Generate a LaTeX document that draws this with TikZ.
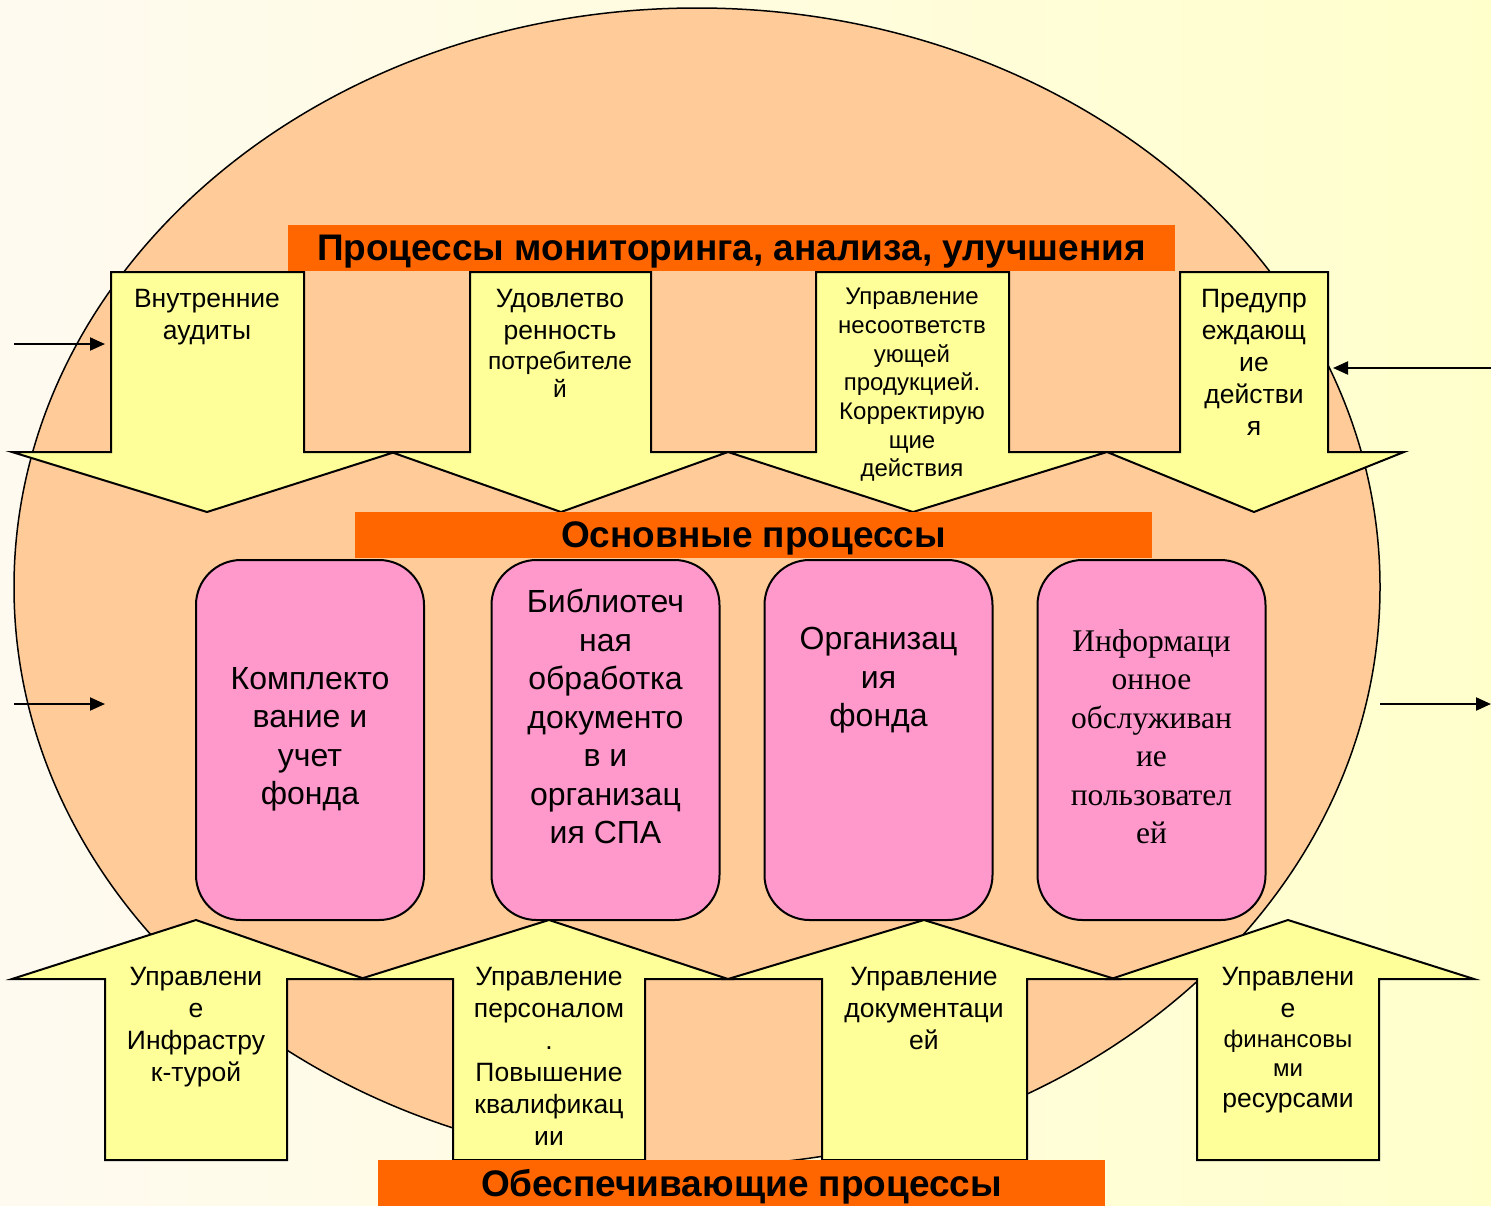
\documentclass[tikz,border=0pt]{standalone}
\usepackage{fontspec}
\setmainfont{Liberation Sans}
\newfontfamily\serifcyr{Liberation Serif}
\usetikzlibrary{arrows.meta}
\definecolor{peach}{RGB}{255,204,153}
\definecolor{lemon}{RGB}{255,255,153}
\definecolor{barorange}{RGB}{255,102,0}
\definecolor{rosepink}{RGB}{255,153,204}
\definecolor{paleleft}{RGB}{255,250,240}
\definecolor{paleright}{RGB}{255,255,204}
\tikzstyle{blockarrow} = [draw=black, line width=2pt, fill=lemon]
\tikzstyle{bar} = [fill=barorange, inner sep=0pt, text depth=0pt,
                   font=\fontsize{37}{42}\selectfont\bfseries]
\tikzstyle{procbox} = [draw=black, line width=2pt, fill=rosepink,
                       rounded corners=45pt, minimum width=228pt, minimum height=360pt]
\tikzstyle{proctext} = [align=center, anchor=north, inner sep=0pt,
                        font=\fontsize{32}{38.5}\selectfont]
\tikzstyle{arrowtext} = [align=center, anchor=north, inner sep=0pt,
                         font=\fontsize{26.5}{32}\selectfont]
\tikzstyle{smalltext} = [arrowtext, font=\fontsize{24}{28.7}\selectfont]
\tikzstyle{flow} = [line width=2pt, -{Triangle[length=15pt,width=13pt]}]
\newcommand{\sm}{\fontsize{24.5}{28}\selectfont}
\newcommand{\downblock}[5]{%
  \draw[blockarrow] (#1,272) -- (#2,272) -- (#2,452) -- (#4,452) -- (#5,512)
    -- (#3,452) -- (#1,452) -- cycle;}
\newcommand{\upblock}[5]{%
  \draw[blockarrow] (#1,1160) -- (#2,1160) -- (#2,979) -- (#4,979) -- (#5,920)
    -- (#3,979) -- (#1,979) -- cycle;}

\begin{document}
\begin{tikzpicture}[x=1pt, y=-1pt]
  \shade[left color=paleleft, right color=paleright] (0,0) rectangle (1491,1205);
  \useasboundingbox (0,0) rectangle (1491,1205);
  \draw[line width=1.5pt, fill=peach] (697,587) ellipse [x radius=683, y radius=579];

  \downblock{111}{304}{12}{395}{207}
  \downblock{470}{651}{391}{728}{561}
  \downblock{816}{1009}{728}{1107}{913}
  \downblock{1180}{1328}{1107}{1404}{1254}
  \node[arrowtext] (audit) at (207,289) {Внутренние\\аудиты};
  \node[arrowtext] (satisf) at (560,289) {Удовлетво\\ренность\\[-2pt]{\sm потребителе}\\[-4pt]{\sm й}};
  \node[smalltext] (noncon) at (912,288) {Управление\\несоответств\\ующей\\продукцией.\\Корректирую\\щие\\действия};
  \node[arrowtext] (prevent) at (1254,289) {Предупр\\еждающ\\ие\\действи\\я};

  \node[bar, minimum width=887, minimum height=46] (monbar) at (731.5,248)
    {Процессы мониторинга, анализа, улучшения};
  \node[bar, minimum width=797, minimum height=46] (mainbar) at (753.5,535)
    {Основные процессы};

  \node[procbox] (acquis) at (310,740) {};
  \node[procbox] (catalog) at (605.5,740) {};
  \node[procbox] (stock) at (878.5,740) {};
  \node[procbox] (service) at (1151.5,740) {};
  \node[proctext] at (acquis.center |- 0,667) {Комплекто\\вание и\\учет\\фонда};
  \node[proctext] at (catalog.center |- 0,589) {Библиотеч\\ная\\обработка\\документо\\в и\\организац\\ия СПА};
  \node[proctext] at (stock.center |- 0,627) {Организац\\ия\\фонда};
  \node[proctext, font=\fontsize{31.5}{38.5}\selectfont\serifcyr] at (service.center |- 0,629)
    {Информаци\\онное\\обслуживан\\ие\\пользовател\\ей};

  \upblock{105}{287}{12}{365}{196}
  \upblock{453}{645}{360}{728}{549}
  \upblock{822}{1027}{728}{1115}{924}
  \upblock{1197}{1379}{1111}{1474}{1288}
  \node[arrowtext] (infra) at (196,967) {Управлени\\е\\Инфрастру\\к-турой};
  \node[arrowtext] (staff) at (549,967) {Управление\\персоналом\\.\\Повышение\\квалификац\\ии};
  \node[arrowtext] (docs) at (924,967) {Управление\\документаци\\ей};
  \node[arrowtext] (finance) at (1288,967) {Управлени\\е\\[-2pt]{\fontsize{24}{30}\selectfont финансовы}\\[-3pt]{\fontsize{24}{30}\selectfont ми}\\[-1pt]ресурсами};

  \node[bar, minimum width=727, minimum height=46] (supbar) at (741.5,1183)
    {Обеспечивающие процессы};

  \coordinate (inA) at (14,344);
  \coordinate (inAend) at (105,344);
  \coordinate (inB) at (14,704);
  \coordinate (inBend) at (105,704);
  \coordinate (backA) at (1491,368);
  \coordinate (backAend) at (1333,368);
  \coordinate (outB) at (1380,704);
  \coordinate (outBend) at (1491,704);
  \draw[flow] (inA) -- (inAend);
  \draw[flow] (inB) -- (inBend);
  \draw[flow] (backA) -- (backAend);
  \draw[flow] (outB) -- (outBend);
\end{tikzpicture}
\end{document}
